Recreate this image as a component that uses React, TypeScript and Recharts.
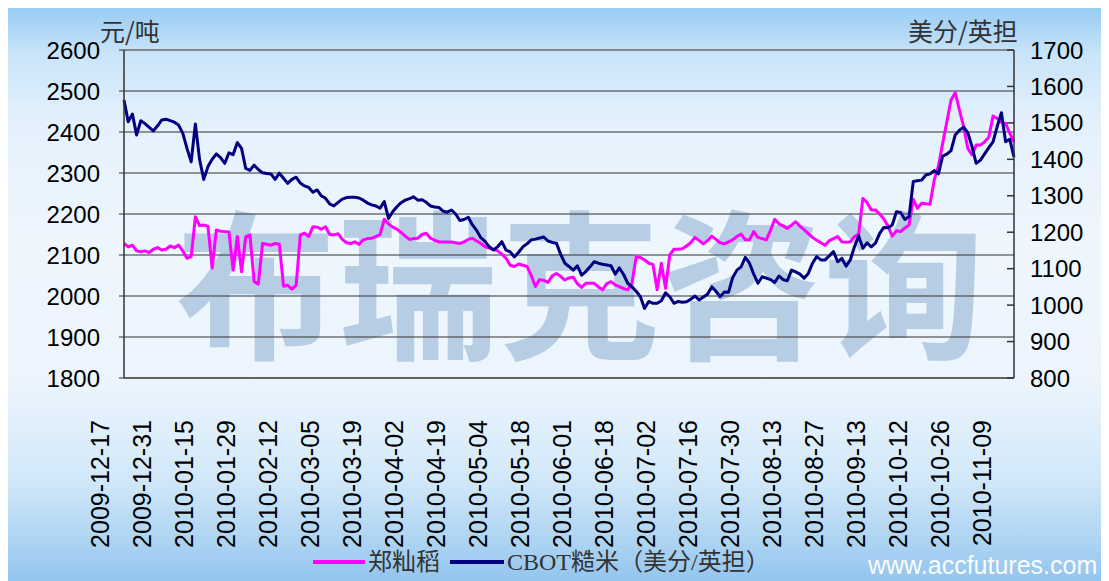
import { LineChart, Line, XAxis, YAxis, CartesianGrid } from 'recharts';

// Tick labels shown every 10 trading days
const xLabels = [
  '2009-12-17', '2009-12-31', '2010-01-15', '2010-01-29', '2010-02-12',
  '2010-03-05', '2010-03-19', '2010-04-02', '2010-04-19', '2010-05-04',
  '2010-05-18', '2010-06-01', '2010-06-18', '2010-07-02', '2010-07-16',
  '2010-07-30', '2010-08-13', '2010-08-27', '2010-09-13', '2010-10-12',
  '2010-10-26', '2010-11-09',
];
const xTicks = xLabels.map((_, k) => k * 10);

const leftTicks = [1800, 1900, 2000, 2100, 2200, 2300, 2400, 2500, 2600];
const rightTicks = [800, 900, 1000, 1100, 1200, 1300, 1400, 1500, 1600, 1700];

// 郑籼稻 (元/吨)
const zhengRice = [
  2128, 2120, 2124, 2110, 2108, 2110, 2106, 2114, 2118, 2112,
  2114, 2122, 2118, 2124, 2110, 2092, 2096, 2193, 2172, 2173,
  2170, 2068, 2161, 2158, 2157, 2156, 2063, 2145, 2059, 2145,
  2149, 2035, 2029, 2128, 2126, 2124, 2128, 2126, 2024, 2026,
  2017, 2026, 2149, 2153, 2145, 2169, 2168, 2163, 2169, 2150,
  2149, 2152, 2138, 2130, 2128, 2132, 2126, 2137, 2140, 2141,
  2145, 2150, 2187, 2176, 2168, 2163, 2155, 2146, 2138, 2140,
  2141, 2150, 2153, 2141, 2136, 2132, 2132, 2132, 2132, 2130,
  2128, 2132, 2138, 2141, 2134, 2128, 2120, 2117, 2114, 2110,
  2102, 2092, 2075, 2072, 2078, 2075, 2072, 2050, 2023, 2040,
  2038, 2033, 2049, 2055, 2048, 2039, 2044, 2046, 2030, 2021,
  2031, 2031, 2031, 2022, 2015, 2030, 2035, 2027, 2023, 2018,
  2015, 2031, 2096, 2094, 2088, 2080, 2077, 2015, 2080, 2019,
  2100, 2114, 2114, 2115, 2122, 2130, 2143, 2135, 2127, 2135,
  2146, 2138, 2130, 2127, 2132, 2137, 2145, 2151, 2137, 2137,
  2157, 2143, 2140, 2137, 2160, 2187, 2176, 2171, 2165, 2173,
  2181, 2170, 2162, 2152, 2143, 2136, 2130, 2124, 2135, 2140,
  2145, 2132, 2131, 2132, 2145, 2151, 2238, 2228, 2210, 2210,
  2200, 2188, 2170, 2146, 2159, 2157, 2166, 2173, 2236, 2214,
  2226, 2225, 2224, 2283, 2317, 2372, 2425, 2478, 2496, 2454,
  2413, 2360, 2344, 2368, 2368, 2376, 2387, 2439, 2433, 2424,
  2421, 2397, 2376,
];

// CBOT糙米 (美分/英担)
const cbotRice = [
  1563, 1503, 1524, 1467, 1506, 1498, 1488, 1478, 1492, 1508,
  1510, 1506, 1502, 1494, 1472, 1430, 1393, 1497, 1400, 1345,
  1380, 1400, 1415, 1405, 1389, 1418, 1413, 1446, 1430, 1375,
  1370, 1384, 1372, 1363, 1361, 1360, 1345, 1362, 1348, 1334,
  1345, 1351, 1335, 1327, 1323, 1310, 1316, 1300, 1293, 1278,
  1272, 1282, 1291, 1295, 1296, 1296, 1294, 1288, 1280, 1275,
  1272, 1266, 1284, 1238, 1256, 1270, 1281, 1288, 1292, 1297,
  1288, 1289, 1282, 1272, 1269, 1268, 1258, 1255, 1261, 1250,
  1232, 1235, 1241, 1220, 1205, 1185, 1175, 1160, 1151, 1160,
  1174, 1151, 1146, 1132, 1145, 1160, 1168, 1179, 1181, 1184,
  1187, 1176, 1172, 1170, 1140, 1115, 1106, 1096, 1108, 1082,
  1092, 1105, 1119, 1115, 1112, 1110, 1108, 1085, 1102, 1084,
  1060, 1050, 1038, 1023, 991, 1010, 1005, 1005, 1012, 1034,
  1023, 1005, 1010, 1008, 1009, 1016, 1025, 1014, 1022, 1030,
  1050, 1038, 1023, 1036, 1035, 1076, 1096, 1105, 1131, 1115,
  1085, 1060, 1078, 1074, 1070, 1062, 1080, 1070, 1067, 1096,
  1091, 1085, 1074, 1087, 1115, 1133, 1124, 1124, 1135, 1147,
  1119, 1128, 1107, 1124, 1160, 1190, 1156, 1171, 1160, 1170,
  1197, 1213, 1212, 1220, 1256, 1254, 1235, 1243, 1339, 1341,
  1343, 1357, 1360, 1369, 1360, 1409, 1414, 1424, 1467, 1480,
  1488, 1473, 1435, 1389, 1398, 1415, 1432, 1448, 1490, 1528,
  1448, 1455, 1406,
];

const data = zhengRice.map((v, i) => ({ i, zheng: v, cbot: cbotRice[i] }));

const CJK = '"Noto Sans CJK SC", sans-serif';
const NUM = '"Liberation Sans", Arial, sans-serif';
const AXIS = '#333';

// rotated date labels, sit a bit left of their tick like the Excel original
function DateTick(props: any) {
  const { x, y, payload } = props;
  const label = xLabels[Math.round(payload.value / 10)] ?? '';
  const cx = x - 24;
  return (
    <text
      x={cx}
      y={y}
      transform={`rotate(-90, ${cx}, ${y})`}
      textAnchor="end"
      dominantBaseline="central"
      fontSize={25}
      fontFamily={NUM}
      fill="#000"
    >
      {label}
    </text>
  );
}

// right axis: tick marks point inward
function RightTick(props: any) {
  const { x, y, payload } = props;
  const axisX = x - 16;
  return (
    <g>
      <line x1={axisX - 7} x2={axisX} y1={y} y2={y} stroke={AXIS} strokeWidth={1.5} />
      <text x={x} y={y} dominantBaseline="central" fontSize={24} fontFamily={NUM} fill="#000">
        {payload.value}
      </text>
    </g>
  );
}

export default function App() {
  return (
    <div
      style={{
        position: 'relative',
        width: 1101,
        height: 573,
        overflow: 'hidden',
        background:
          'linear-gradient(to bottom, #98ccf3 0%, #c9e4f9 8%, #e4f1fc 20%, #eef6fe 40%, #ecf5fd 65%, #d2e8f9 82%, #b1d6f3 92%, #93c5ee 100%)',
      }}
    >
      {/* watermark */}
      <div
        style={{
          position: 'absolute',
          left: 168,
          top: 184,
          fontSize: 160,
          lineHeight: '170px',
          fontWeight: 700,
          fontFamily: CJK,
          color: '#b6cde3',
          whiteSpace: 'nowrap',
          letterSpacing: 2,
        }}
      >
        布瑞克咨询
      </div>

      <div style={{ position: 'absolute', left: 0, top: 0 }}>
        <LineChart width={1101} height={573} data={data} margin={{ top: 42, right: 0, bottom: 0, left: 0 }}>
          <CartesianGrid vertical={false} stroke={AXIS} strokeWidth={1.2} />
          <XAxis
            dataKey="i"
            type="number"
            domain={[0, 212]}
            ticks={xTicks}
            interval={0}
            height={203}
            tickLine={false}
            tickSize={0}
            tickMargin={42}
            axisLine={{ stroke: AXIS }}
            tick={<DateTick />}
          />
          <YAxis
            domain={[1800, 2600]}
            ticks={leftTicks}
            interval={0}
            width={116}
            tickSize={5}
            tickMargin={19}
            tickLine={{ stroke: AXIS }}
            axisLine={{ stroke: AXIS, strokeWidth: 1.5 }}
            tick={{ fontSize: 24, fontFamily: NUM, fill: '#000' }}
          />
          <YAxis
            yAxisId="right"
            orientation="right"
            domain={[800, 1700]}
            ticks={rightTicks}
            interval={0}
            width={95}
            tickSize={0}
            tickMargin={16}
            tickLine={false}
            axisLine={{ stroke: AXIS, strokeWidth: 1.5 }}
            tick={<RightTick />}
          />
          <Line
            dataKey="zheng"
            type="linear"
            stroke="#ff00ff"
            strokeWidth={3}
            dot={false}
            strokeLinejoin="round"
            isAnimationActive={false}
          />
          <Line
            dataKey="cbot"
            yAxisId="right"
            type="linear"
            stroke="#000080"
            strokeWidth={3}
            dot={false}
            strokeLinejoin="round"
            isAnimationActive={false}
          />
        </LineChart>
      </div>

      {/* axis unit titles */}
      <div style={{ position: 'absolute', left: 92, top: 10, fontSize: 25, lineHeight: '25px', fontFamily: CJK, color: '#333' }}>
        元/吨
      </div>
      <div style={{ position: 'absolute', left: 900, top: 10, fontSize: 25, lineHeight: '25px', fontFamily: CJK, color: '#333' }}>
        美分/英担
      </div>

      {/* legend */}
      <div
        style={{
          position: 'absolute',
          left: 305,
          top: 539,
          height: 30,
          display: 'flex',
          alignItems: 'center',
          fontSize: 24,
          lineHeight: '30px',
          fontFamily: `"Liberation Serif", ${CJK}`,
          color: '#333',
          whiteSpace: 'nowrap',
        }}
      >
        <span style={{ display: 'inline-block', width: 52, height: 4, background: '#ff00ff', marginRight: 3 }} />
        <span>郑籼稻</span>
        <span style={{ display: 'inline-block', width: 54, height: 4, background: '#000080', marginLeft: 10, marginRight: 3 }} />
        <span>CBOT糙米（美分/英担）</span>
      </div>

      {/* site mark */}
      <div
        style={{
          position: 'absolute',
          left: 860,
          top: 543,
          fontSize: 25,
          lineHeight: '28px',
          fontFamily: NUM,
          color: '#fff',
          opacity: 0.95,
        }}
      >
        www.accfutures.com
      </div>
    </div>
  );
}
